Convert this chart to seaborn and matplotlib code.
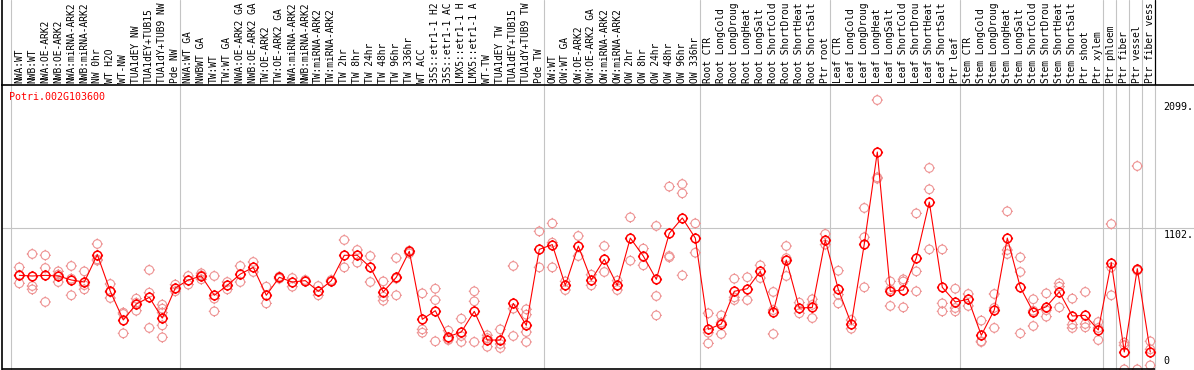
import numpy as np
import pandas as pd
import matplotlib
matplotlib.use("Agg")
import matplotlib.pyplot as plt
from matplotlib.path import Path
import seaborn as sns

# sample labels as shown (the chart cuts them at 14 characters)
labels = [
    "NWA:WT", "NWB:WT", "NWA:OE-ARK2", "NWB:OE-ARK2", "NWA:miRNA-ARK2", "NWB:miRNA-ARK2",
    "NW 0hr", "WT H2O", "WT-NW", "TUA1dEY NW", "TUA1dEY+TUB15", "TUA1dY+TUB9 NW", "Pde NW",
    "NWA:WT GA", "NWBWT GA", "TW:WT", "TW:WT GA", "NWA:OE-ARK2 GA", "NWB:OE-ARK2 GA",
    "TW:OE-ARK2", "TW:OE-ARK2 GA", "NWA:miRNA-ARK2", "NWB:miRNA-ARK2", "TW:miRNA-ARK2",
    "TW:miRNA-ARK2", "TW 2hr", "TW 8hr", "TW 24hr", "TW 48hr", "TW 96hr", "TW 336hr",
    "WT ACC", "35S::etr1-1 H2", "35S::etr1-1 AC", "LMX5::etr1-1 H", "LMX5::etr1-1 A",
    "WT-TW", "TUA1dEY TW", "TUA1dEY+TUB15", "TUA1dY+TUB9 TW", "Pde TW",
    "OW:WT", "OW:WT GA", "OW:OE-ARK2", "OW:OE-ARK2 GA", "OW:miRNA-ARK2", "OW:miRNA-ARK2",
    "OW 2hr", "OW 8hr", "OW 24hr", "OW 48hr", "OW 96hr", "OW 336hr",
    "Root CTR", "Root LongCold", "Root LongDroug", "Root LongHeat", "Root LongSalt",
    "Root ShortCold", "Root ShortDrou", "Root ShortHeat", "Root ShortSalt", "Ptr root",
    "Leaf CTR", "Leaf LongCold", "Leaf LongDroug", "Leaf LongHeat", "Leaf LongSalt",
    "Leaf ShortCold", "Leaf ShortDrou", "Leaf ShortHeat", "Leaf ShortSalt", "Ptr leaf",
    "Stem CTR", "Stem LongCold", "Stem LongDroug", "Stem LongHeat", "Stem LongSalt",
    "Stem ShortCold", "Stem ShortDrou", "Stem ShortHeat", "Stem ShortSalt", "Ptr shoot",
    "Ptr xylem", "Ptr phloem", "Ptr fiber", "Ptr vessel", "Ptr fiber vess",
]

# mean expression per sample
means = [
    736, 731, 736, 731, 700, 684, 897, 612, 389, 513, 565, 404, 638,
    700, 731, 581, 658, 746, 798, 581, 721, 684, 695, 612, 695, 892, 892, 798, 607, 721,
    923, 394, 461, 259, 295, 456, 233, 233, 518, 347, 938,
    975, 658, 964, 700, 861, 658, 1026, 886, 705, 1063, 1182, 1026,
    316, 358, 612, 632, 767, 451, 855, 482, 487, 1011,
    627, 358, 980, 1695, 612, 622, 871, 1306, 643, 529,
    550, 270, 467, 1026, 643, 451, 492, 607, 420, 425, 311,
    835, 140, 788, 140,
]

# replicate values per sample
reps = [
    [798, 736, 674], [902, 653, 627], [892, 793, 529], [767, 742, 684], [809, 710, 581],
    [767, 660, 627], [980, 860, 851], [669, 607, 560], [446, 436, 285], [555, 523, 461],
    [778, 601, 327], [508, 477, 446, 347, 254], [664, 612],
    [731, 664], [736, 752, 705], [731, 555, 456], [684, 627], [809, 684], [840, 762],
    [648, 518], [726, 710], [715, 648], [700, 690], [653, 581], [700, 690],
    [1011, 798], [933, 835], [886, 684], [689, 570, 539], [871, 711, 581], [928, 907],
    [596, 316, 290], [632, 544, 223], [306, 238, 233], [399, 264, 218], [612, 534, 218],
    [270, 248, 181], [316, 202, 171], [809, 477, 264], [472, 430, 295, 218], [1078, 798],
    [1140, 990, 798], [689, 622], [1042, 886], [741, 658], [964, 762], [695, 622],
    [1187, 850], [944, 814], [1120, 575, 425], [1426, 886, 876], [1446, 1374, 736],
    [1140, 912],
    [441, 290, 207], [425, 369, 280], [710, 565, 544], [721, 544], [814, 715],
    [607, 466, 280], [964, 870, 731], [524, 441], [550, 507, 404], [1058, 975],
    [772, 586, 518], [389, 321], [1260, 1032, 643], [2099, 1498, 1488], [689, 627, 498],
    [705, 689, 487], [1218, 767, 612], [1571, 1405, 938], [938, 518, 456], [632, 482, 456],
    [591, 498], [384, 223, 218], [591, 483, 327], [1234, 933, 902], [876, 762, 285],
    [550, 461, 342], [596, 465, 415], [674, 648, 487], [555, 353, 327], [607, 358, 332],
    [373, 327, 233], [1135, 798, 581], [213, 192, 5], [1586, 773, 5], [223, 161, 36],
]

# last sample index of each block (a grey rule follows each one)
group_ends = [-1, 12, 40, 52, 62, 72, 83, 84, 85, 86, 87]
tick_values = [2099, 1102, 0]
tick_labels = ["2099.", "1102.", "0"]
gene_id = "Potri.002G103600"

MEAN_COLOR = "#ff0000"
REP_COLOR = "#ee9494"
GRID_COLOR = "#c4c4c4"

sns.set_style("white")
plt.rcParams["font.family"] = ["DejaVu Sans Mono", "DejaVu Sans"]

# open circle with four short stubs, like the original markers
stub = 1.3
gear = Path.make_compound_path(
    Path.unit_circle(),
    Path([[0, 1], [0, stub]], [Path.MOVETO, Path.LINETO]),
    Path([[0, -1], [0, -stub]], [Path.MOVETO, Path.LINETO]),
    Path([[1, 0], [stub, 0]], [Path.MOVETO, Path.LINETO]),
    Path([[-1, 0], [-stub, 0]], [Path.MOVETO, Path.LINETO]),
)

W, H = 1194, 370
def px_box(x0, y0, x1, y1):
    return [x0 / W, 1 - y1 / H, (x1 - x0) / W, (y1 - y0) / H]

fig = plt.figure(figsize=(W / 100, H / 100), dpi=100)
ax = fig.add_axes(px_box(2, 85, 1194, 370))
lab_ax = fig.add_axes(px_box(2, 0, 1194, 85))

x0 = (2 - 19.3) / 13
x1 = (1194 - 19.3) / 13
idx = np.arange(len(labels))
seps = [g + 0.38 for g in group_ends]

rep_df = pd.DataFrame({
    "idx": [i for i, r in enumerate(reps) for _ in r],
    "value": [v for r in reps for v in r],
})
mean_df = pd.DataFrame({"idx": idx, "value": means})

# grid and block rules
ax.axhline(1102, color=GRID_COLOR, lw=0.8, zorder=0)
for s in seps:
    ax.axvline(s, color=GRID_COLOR, lw=0.8, zorder=0)

sns.scatterplot(data=rep_df, x="idx", y="value", marker=gear, s=64,
                facecolor="none", edgecolor=REP_COLOR, linewidth=0.8,
                ax=ax, zorder=2, legend=False)
sns.lineplot(data=mean_df, x="idx", y="value", color=MEAN_COLOR, lw=0.8,
             marker=gear, markersize=8.0, markerfacecolor="none",
             markeredgecolor=MEAN_COLOR, markeredgewidth=1.1, ax=ax, zorder=3)

ax.set_xlim(x0, x1)
ax.set_ylim(0, 285 / 0.1286)
ax.set_xticks([])
ax.set_yticks([])
ax.set_xlabel("")
ax.set_ylabel("")
for side in ["top", "right", "bottom"]:
    ax.spines[side].set_visible(False)
ax.spines["left"].set_color("black")
ax.spines["left"].set_linewidth(1.2)
ax.plot([x0, seps[-1]], [1.5 / 0.1286, 1.5 / 0.1286], color="black", lw=1.2,
        solid_capstyle="butt", zorder=4, clip_on=False)

for v, t in zip(tick_values, tick_labels):
    if v == 0:
        ax.annotate(t, xy=(88.0, v), xytext=(0, 4), textcoords="offset pixels",
                    ha="left", va="bottom", fontsize=7.2, color="black")
    else:
        ax.annotate(t, xy=(88.0, v), xytext=(0, -2), textcoords="offset pixels",
                    ha="left", va="top", fontsize=7.2, color="black")

fig.text(9.5 / W, 1 - 97 / H, gene_id, color=MEAN_COLOR, fontsize=7.2,
         ha="left", va="center")

# label strip on top
lab_ax.set_xlim(x0, x1)
lab_ax.set_ylim(85, 0)
lab_ax.set_xticks([])
lab_ax.set_yticks([])
for side in ["top", "right"]:
    lab_ax.spines[side].set_visible(False)
for side in ["left", "bottom"]:
    lab_ax.spines[side].set_color("black")
    lab_ax.spines[side].set_linewidth(1.2)
for s in seps[:-1]:
    lab_ax.axvline(s, color=GRID_COLOR, lw=0.8, zorder=0)
lab_ax.axvline(seps[-1], color="black", lw=0.9, zorder=1)
for i, t in enumerate(labels):
    lab_ax.text(i, 83, t, rotation=90, ha="center", va="bottom",
                fontsize=6.9, color="black")

fig.savefig("out.png", dpi=100)
